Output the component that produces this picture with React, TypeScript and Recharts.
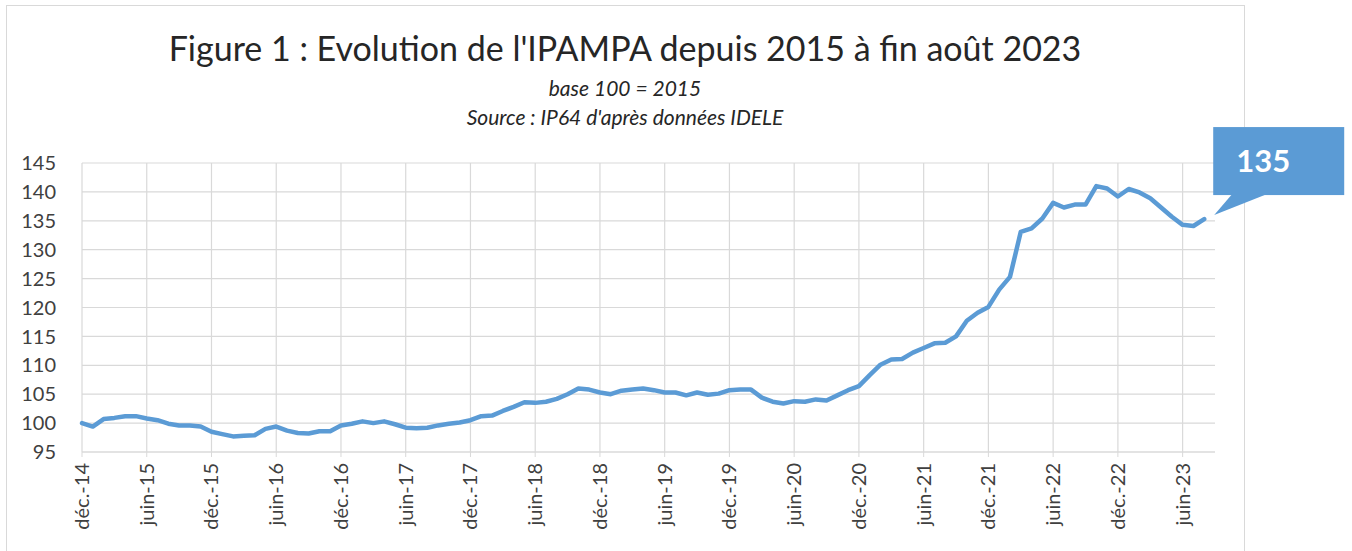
import React from "react"
import { LineChart, Line, XAxis, YAxis, CartesianGrid } from "recharts"

// French Excel month abbreviations, used to build the category labels
const MONTHS_FR = ["janv.", "févr.", "mars", "avr.", "mai", "juin", "juil.", "août", "sept.", "oct.", "nov.", "déc."]
const YEARS = ["15", "16", "17", "18", "19", "20", "21", "22", "23"]

// IPAMPA index, base 100 = 2015
const ipampaDec2014 = [100.0]
const ipampa2015 = [99.4, 100.7, 100.9, 101.2, 101.2, 100.8, 100.5, 99.9, 99.6, 99.6, 99.4, 98.5]
const ipampa2016 = [98.1, 97.7, 97.8, 97.9, 99.0, 99.4, 98.7, 98.3, 98.2, 98.6, 98.6, 99.6]
const ipampa2017 = [99.9, 100.3, 100.0, 100.3, 99.8, 99.2, 99.1, 99.2, 99.6, 99.9, 100.1, 100.5]
const ipampa2018 = [101.2, 101.3, 102.1, 102.8, 103.6, 103.5, 103.7, 104.2, 105.0, 106.0, 105.8, 105.3]
const ipampa2019 = [105.0, 105.6, 105.8, 106.0, 105.7, 105.3, 105.3, 104.8, 105.3, 104.9, 105.1, 105.7]
const ipampa2020 = [105.8, 105.8, 104.4, 103.7, 103.4, 103.8, 103.7, 104.1, 103.9, 104.8, 105.7, 106.4]
const ipampa2021 = [108.3, 110.1, 111.0, 111.1, 112.2, 113.0, 113.8, 113.9, 115.0, 117.7, 119.1, 120.1]
const ipampa2022 = [123.1, 125.3, 133.1, 133.7, 135.4, 138.1, 137.3, 137.8, 137.8, 141.0, 140.6, 139.2]
// sept.-23 is on the axis but has no value yet
const ipampa2023 = [140.5, 139.9, 138.9, 137.3, 135.7, 134.3, 134.1, 135.3, null]

const Y_TICKS = [95, 100, 105, 110, 115, 120, 125, 130, 135, 140, 145]

const values: (number | null)[] = [
  ...ipampaDec2014,
  ...ipampa2015,
  ...ipampa2016,
  ...ipampa2017,
  ...ipampa2018,
  ...ipampa2019,
  ...ipampa2020,
  ...ipampa2021,
  ...ipampa2022,
  ...ipampa2023,
]

const labels = ["déc.-14", ...YEARS.flatMap((yy) => MONTHS_FR.map((m) => `${m}-${yy}`))]

const data = values.map((v, i) => ({ month: labels[i], ipampa: v }))

// last month with a value gets the callout
const LAST = values.reduce((acc: number, v, i) => (v != null ? i : acc), 0)

const BLUE = "#5b9bd5"
const GRID = "#d9d9d9"
const TEXT = "#404040"
const FONT = "Lato, 'Open Sans', sans-serif"

const MonthTick = (props: any) => {
  const { x, y, payload } = props
  return (
    <text
      x={x}
      y={y}
      dy={7}
      transform={`rotate(-90, ${x}, ${y})`}
      textAnchor="end"
      fill={TEXT}
      fontSize={20}
      fontFamily={FONT}
    >
      {payload.value}
    </text>
  )
}

const renderCallout = (props: any) => {
  const { x, y, index, value } = props
  if (index !== LAST || x == null || y == null) return null
  return (
    <g>
      <rect x={x + 9} y={y - 92} width={131} height={68} fill={BLUE} />
      <polygon points={`${x + 28},${y - 25} ${x + 10},${y - 4} ${x + 63},${y - 25}`} fill={BLUE} />
      <text x={x + 32} y={y - 47} fill="#fff" fontSize={31} fontWeight={700} fontFamily={FONT}>
        {Math.round(value)}
      </text>
    </g>
  )
}

export default function App() {
  return (
    <div style={{ position: "absolute", left: 0, top: 0, width: 1352, height: 551, background: "#fff", overflow: "hidden" }}>
      <div
        style={{
          position: "absolute",
          left: 6,
          top: 5,
          width: 1237,
          height: 560,
          border: `1px solid ${GRID}`,
        }}
      />
      <div style={{ position: "absolute", left: 0, top: 0, width: 1250, textAlign: "center", fontFamily: FONT, color: "#262626" }}>
        <div style={{ position: "absolute", left: 0, width: 1250, top: 27, fontSize: 34, lineHeight: "42px" }}>
          Figure 1 : Evolution de l'IPAMPA depuis 2015 à fin août 2023
        </div>
        <div style={{ position: "absolute", left: 0, width: 1250, top: 75, fontSize: 21, fontStyle: "italic", lineHeight: "26px" }}>
          base 100 = 2015
        </div>
        <div style={{ position: "absolute", left: 0, width: 1250, top: 104, fontSize: 21, fontStyle: "italic", lineHeight: "26px" }}>
          Source : IP64 d'après données IDELE
        </div>
      </div>
      <div style={{ position: "absolute", left: 0, top: 0 }}>
        <LineChart width={1352} height={551} data={data} margin={{ top: 163, right: 137, bottom: 0, left: 5 }}>
          <CartesianGrid stroke={GRID} strokeWidth={1.2} syncWithTicks />
          <XAxis
            dataKey="month"
            interval={5}
            height={99}
            tick={<MonthTick />}
            tickSize={5}
            tickMargin={6}
            tickLine={{ stroke: GRID }}
            axisLine={{ stroke: GRID, strokeWidth: 1.2 }}
          />
          <YAxis
            domain={[95, 145]}
            ticks={Y_TICKS}
            width={77}
            axisLine={false}
            tickLine={false}
            tickMargin={20}
            tick={{ fill: TEXT, fontSize: 20, fontFamily: FONT }}
          />
          <Line
            type="linear"
            dataKey="ipampa"
            stroke={BLUE}
            strokeWidth={4.5}
            strokeLinejoin="round"
            strokeLinecap="round"
            dot={false}
            activeDot={false}
            connectNulls={false}
            isAnimationActive={false}
            label={renderCallout}
          />
        </LineChart>
      </div>
    </div>
  )
}
